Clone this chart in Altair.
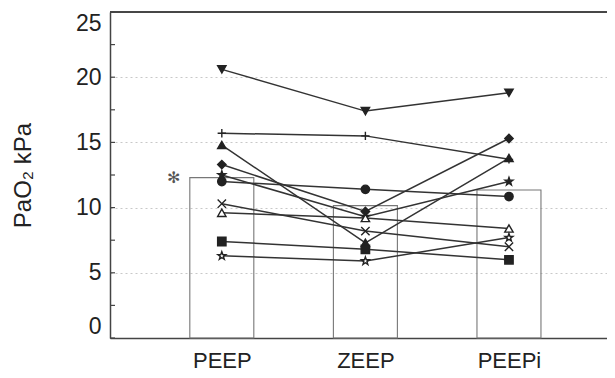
import altair as alt
import pandas as pd

cats = ["PEEP", "ZEEP", "PEEPi"]
bar_means = [12.3, 10.15, 11.35]

subjects = ["s1", "s2", "s3", "s4", "s5", "s6", "s7", "s8", "s9", "s10"]
peep = [20.6, 15.7, 14.8, 13.3, 12.5, 12.0, 10.3, 9.6, 7.4, 6.3]
zeep = [17.4, 15.5, 7.3, 9.7, 9.3, 11.4, 8.2, 9.2, 6.8, 5.9]
peepi = [18.8, 13.7, 13.8, 15.3, 12.0, 10.85, 7.0, 8.4, 6.0, 7.7]

y_ticks = [0, 2.5, 5, 7.5, 10, 12.5, 15, 17.5, 20, 22.5, 25]

STAR = ("M0,-1L0.235,-0.324L0.951,-0.309L0.380,0.124L0.588,0.809L0,0.4"
        "L-0.588,0.809L-0.380,0.124L-0.951,-0.309L-0.235,-0.324Z")
PLUS = "M-1,0L1,0M0,-1L0,1"
XMARK = "M-1,-1L1,1M-1,1L1,-1"
shapes = ["triangle-down", PLUS, "triangle-up", "diamond", STAR, "circle",
          XMARK, "triangle-up", "square", STAR]
fills = ["#222", "#222", "#222", "#222", "#222", "#222", "#222", "white", "#222", "white"]

rows = []
for s, a, b, c in zip(subjects, peep, zeep, peepi):
    for i, v in enumerate([a, b, c]):
        rows.append({"subject": s, "cond": cats[i], "pos": i, "value": v})
df = pd.DataFrame(rows)
bars_df = pd.DataFrame({"cond": cats, "pos": list(range(len(cats))), "mean": bar_means})
ticks_df = pd.DataFrame({"t": y_ticks})

W, H = 497, 326
FONT = "Liberation Sans"

xscale = alt.Scale(domain=[-0.744, 2.648], nice=False, zero=False)
yscale = alt.Scale(domain=[0, 25], nice=False)

label_expr = "['PEEP','ZEEP','PEEPi'][datum.value]"

xenc = alt.X("pos:Q", scale=xscale,
             axis=alt.Axis(title=None, ticks=False, values=[0, 1, 2], labelExpr=label_expr,
                           labelAngle=0, labelFontSize=22, labelFont=FONT, labelColor="#222",
                           labelPadding=12, domainColor="#444", domainWidth=1.5, grid=False))

bars = alt.Chart(bars_df).mark_bar(size=64, fill=None, stroke="#777", strokeWidth=1.1).encode(
    x=xenc,
    y=alt.Y("mean:Q", scale=yscale,
            axis=alt.Axis(values=[0, 5, 10, 15, 20, 25], tickSize=0, labelPadding=9,
                          labelFlush=True,
                          labelFontSize=23, labelFont=FONT, labelColor="#222",
                          grid=True, gridDash=[2, 3], gridColor="#c8c8c8", gridWidth=1,
                          domainColor="#444", domainWidth=1.5,
                          title="PaO₂ kPa", titleFont=FONT, titleFontSize=24,
                          titleFontWeight="normal", titleColor="#222", titlePadding=40)),
)

lines = alt.Chart(df).mark_line(color="#333", strokeWidth=1.5).encode(
    x=alt.X("pos:Q", scale=xscale),
    y=alt.Y("value:Q", scale=yscale),
    detail="subject:N",
)

points = alt.Chart(df).mark_point(size=70, opacity=1, strokeWidth=1.4, stroke="#222").encode(
    x=alt.X("pos:Q", scale=xscale),
    y=alt.Y("value:Q", scale=yscale),
    shape=alt.Shape("subject:N", scale=alt.Scale(domain=subjects, range=shapes), legend=None),
    fill=alt.Fill("subject:N", scale=alt.Scale(domain=subjects, range=fills), legend=None),
)

yticks = alt.Chart(ticks_df).mark_rule(color="#444", strokeWidth=1.2).encode(
    y=alt.Y("t:Q", scale=yscale),
    x=alt.value(0),
    x2=alt.value(5),
)

top = alt.Chart(bars_df).mark_rule(color="#444", strokeWidth=1.5).encode(
    y=alt.datum(25),
    x=alt.value(0),
    x2=alt.value(W),
)

star_note = alt.Chart(bars_df.iloc[[0]]).mark_text(
    text="✻", font="DejaVu Sans", fontSize=16, color="#555", dx=-48, dy=0
).encode(
    x=alt.X("pos:Q", scale=xscale),
    y=alt.Y("mean:Q", scale=yscale),
)

chart = alt.layer(bars, lines, points, yticks, top, star_note).properties(
    width=W, height=H,
    autosize=alt.AutoSizeParams(type="none"),
    padding={"left": 102, "top": 4, "right": 0, "bottom": 40},
).configure_view(stroke=None).configure(background="white")

chart.save("out.html", embed_options={"renderer": "svg", "actions": False})
